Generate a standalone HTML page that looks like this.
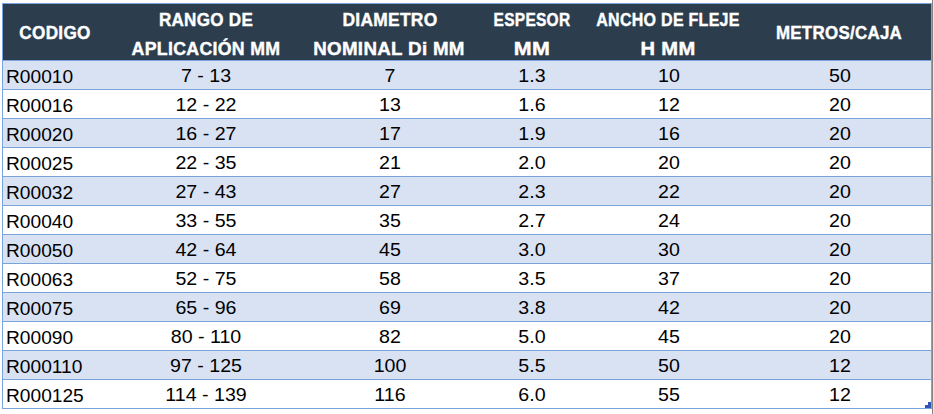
<!DOCTYPE html>
<html><head><meta charset="utf-8"><style>
html,body{margin:0;padding:0;background:#fff;width:934px;height:414px;overflow:hidden;position:relative}
.a{position:absolute}
.t{position:absolute;white-space:nowrap;font-family:"Liberation Sans",sans-serif;}
.d{font-size:18.5px;line-height:18.5px;color:#000;width:300px;text-align:center;transform-origin:50% 50%}
.h{font-size:18.0px;line-height:18.0px;color:#fff;font-weight:bold;letter-spacing:0.3px;-webkit-text-stroke:0.4px #fff;width:300px;text-align:center;transform-origin:50% 50%}
</style></head><body>
<div class="a" style="left:2px;top:3px;width:928px;height:404px;border:1px solid #7BA3DB;background:#fff"></div>
<div class="a" style="left:3px;top:4px;width:928px;height:56px;background:#2C3D4E"></div>

<div class="a" style="left:3px;top:61px;width:928px;height:28px;background:#D9E2F3"></div>
<div class="a" style="left:2px;top:60px;width:930px;height:1px;background:#7BA3DB"></div>
<div class="a" style="left:2px;top:89px;width:930px;height:1px;background:#7BA3DB"></div>
<div class="a" style="left:3px;top:119px;width:928px;height:28px;background:#D9E2F3"></div>
<div class="a" style="left:2px;top:118px;width:930px;height:1px;background:#7BA3DB"></div>
<div class="a" style="left:2px;top:147px;width:930px;height:1px;background:#7BA3DB"></div>
<div class="a" style="left:3px;top:177px;width:928px;height:28px;background:#D9E2F3"></div>
<div class="a" style="left:2px;top:176px;width:930px;height:1px;background:#7BA3DB"></div>
<div class="a" style="left:2px;top:205px;width:930px;height:1px;background:#7BA3DB"></div>
<div class="a" style="left:3px;top:235px;width:928px;height:28px;background:#D9E2F3"></div>
<div class="a" style="left:2px;top:234px;width:930px;height:1px;background:#7BA3DB"></div>
<div class="a" style="left:2px;top:263px;width:930px;height:1px;background:#7BA3DB"></div>
<div class="a" style="left:3px;top:293px;width:928px;height:28px;background:#D9E2F3"></div>
<div class="a" style="left:2px;top:292px;width:930px;height:1px;background:#7BA3DB"></div>
<div class="a" style="left:2px;top:321px;width:930px;height:1px;background:#7BA3DB"></div>
<div class="a" style="left:3px;top:351px;width:928px;height:28px;background:#D9E2F3"></div>
<div class="a" style="left:2px;top:350px;width:930px;height:1px;background:#7BA3DB"></div>
<div class="a" style="left:2px;top:379px;width:930px;height:1px;background:#7BA3DB"></div>
<div class="a" style="left:932px;top:0;width:1px;height:414px;background:#8a8282"></div>
<div class="a" style="left:933px;top:0;width:1px;height:414px;background:#e6e6ea"></div>
<div class="a" style="left:925px;top:405px;width:6px;height:3px;background:#2F55B8"></div>
<div class="a" style="left:928px;top:402px;width:3px;height:3px;background:#2F55B8"></div>
<div class="t h" style="left:-95.10px;top:23.76px;transform:scaleX(0.9526)">CODIGO</div>
<div class="t h" style="left:56.14px;top:10.76px;transform:scaleX(0.9477)">RANGO DE</div>
<div class="t h" style="left:55.77px;top:39.76px;transform:scaleX(0.9858)">APLICACIÓN MM</div>
<div class="t h" style="left:239.68px;top:10.76px;transform:scaleX(0.9666)">DIAMETRO</div>
<div class="t h" style="left:239.34px;top:39.76px;transform:scaleX(1.0417)">NOMINAL Di MM</div>
<div class="t h" style="left:381.72px;top:10.76px;transform:scaleX(0.8610)">ESPESOR</div>
<div class="t h" style="left:382.12px;top:39.76px;transform:scaleX(1.1901)">MM</div>
<div class="t h" style="left:518.18px;top:10.76px;transform:scaleX(0.8898)">ANCHO DE FLEJE</div>
<div class="t h" style="left:518.48px;top:39.76px;transform:scaleX(1.1184)">H MM</div>
<div class="t h" style="left:689.46px;top:23.76px;transform:scaleX(0.9389)">METROS/CAJA</div>
<div class="t d" style="left:6.3px;top:68.34px;width:auto;text-align:left;transform-origin:0 50%;transform:scaleX(1.035)">R00010</div>
<div class="t d" style="left:56.00px;top:67.34px;transform:scaleX(1.06)">7 - 13</div>
<div class="t d" style="left:240.00px;top:67.34px;transform:scaleX(1.06)">7</div>
<div class="t d" style="left:382.00px;top:67.34px;transform:scaleX(1.06)">1.3</div>
<div class="t d" style="left:518.50px;top:67.34px;transform:scaleX(1.06)">10</div>
<div class="t d" style="left:690.00px;top:67.34px;transform:scaleX(1.06)">50</div>
<div class="t d" style="left:6.3px;top:97.34px;width:auto;text-align:left;transform-origin:0 50%;transform:scaleX(1.035)">R00016</div>
<div class="t d" style="left:56.00px;top:96.34px;transform:scaleX(1.06)">12 - 22</div>
<div class="t d" style="left:240.00px;top:96.34px;transform:scaleX(1.06)">13</div>
<div class="t d" style="left:382.00px;top:96.34px;transform:scaleX(1.06)">1.6</div>
<div class="t d" style="left:518.50px;top:96.34px;transform:scaleX(1.06)">12</div>
<div class="t d" style="left:690.00px;top:96.34px;transform:scaleX(1.06)">20</div>
<div class="t d" style="left:6.3px;top:126.34px;width:auto;text-align:left;transform-origin:0 50%;transform:scaleX(1.035)">R00020</div>
<div class="t d" style="left:56.00px;top:125.34px;transform:scaleX(1.06)">16 - 27</div>
<div class="t d" style="left:240.00px;top:125.34px;transform:scaleX(1.06)">17</div>
<div class="t d" style="left:382.00px;top:125.34px;transform:scaleX(1.06)">1.9</div>
<div class="t d" style="left:518.50px;top:125.34px;transform:scaleX(1.06)">16</div>
<div class="t d" style="left:690.00px;top:125.34px;transform:scaleX(1.06)">20</div>
<div class="t d" style="left:6.3px;top:155.34px;width:auto;text-align:left;transform-origin:0 50%;transform:scaleX(1.035)">R00025</div>
<div class="t d" style="left:56.00px;top:154.34px;transform:scaleX(1.06)">22 - 35</div>
<div class="t d" style="left:240.00px;top:154.34px;transform:scaleX(1.06)">21</div>
<div class="t d" style="left:382.00px;top:154.34px;transform:scaleX(1.06)">2.0</div>
<div class="t d" style="left:518.50px;top:154.34px;transform:scaleX(1.06)">20</div>
<div class="t d" style="left:690.00px;top:154.34px;transform:scaleX(1.06)">20</div>
<div class="t d" style="left:6.3px;top:184.34px;width:auto;text-align:left;transform-origin:0 50%;transform:scaleX(1.035)">R00032</div>
<div class="t d" style="left:56.00px;top:183.34px;transform:scaleX(1.06)">27 - 43</div>
<div class="t d" style="left:240.00px;top:183.34px;transform:scaleX(1.06)">27</div>
<div class="t d" style="left:382.00px;top:183.34px;transform:scaleX(1.06)">2.3</div>
<div class="t d" style="left:518.50px;top:183.34px;transform:scaleX(1.06)">22</div>
<div class="t d" style="left:690.00px;top:183.34px;transform:scaleX(1.06)">20</div>
<div class="t d" style="left:6.3px;top:213.34px;width:auto;text-align:left;transform-origin:0 50%;transform:scaleX(1.035)">R00040</div>
<div class="t d" style="left:56.00px;top:212.34px;transform:scaleX(1.06)">33 - 55</div>
<div class="t d" style="left:240.00px;top:212.34px;transform:scaleX(1.06)">35</div>
<div class="t d" style="left:382.00px;top:212.34px;transform:scaleX(1.06)">2.7</div>
<div class="t d" style="left:518.50px;top:212.34px;transform:scaleX(1.06)">24</div>
<div class="t d" style="left:690.00px;top:212.34px;transform:scaleX(1.06)">20</div>
<div class="t d" style="left:6.3px;top:242.34px;width:auto;text-align:left;transform-origin:0 50%;transform:scaleX(1.035)">R00050</div>
<div class="t d" style="left:56.00px;top:241.34px;transform:scaleX(1.06)">42 - 64</div>
<div class="t d" style="left:240.00px;top:241.34px;transform:scaleX(1.06)">45</div>
<div class="t d" style="left:382.00px;top:241.34px;transform:scaleX(1.06)">3.0</div>
<div class="t d" style="left:518.50px;top:241.34px;transform:scaleX(1.06)">30</div>
<div class="t d" style="left:690.00px;top:241.34px;transform:scaleX(1.06)">20</div>
<div class="t d" style="left:6.3px;top:271.34px;width:auto;text-align:left;transform-origin:0 50%;transform:scaleX(1.035)">R00063</div>
<div class="t d" style="left:56.00px;top:270.34px;transform:scaleX(1.06)">52 - 75</div>
<div class="t d" style="left:240.00px;top:270.34px;transform:scaleX(1.06)">58</div>
<div class="t d" style="left:382.00px;top:270.34px;transform:scaleX(1.06)">3.5</div>
<div class="t d" style="left:518.50px;top:270.34px;transform:scaleX(1.06)">37</div>
<div class="t d" style="left:690.00px;top:270.34px;transform:scaleX(1.06)">20</div>
<div class="t d" style="left:6.3px;top:300.34px;width:auto;text-align:left;transform-origin:0 50%;transform:scaleX(1.035)">R00075</div>
<div class="t d" style="left:56.00px;top:299.34px;transform:scaleX(1.06)">65 - 96</div>
<div class="t d" style="left:240.00px;top:299.34px;transform:scaleX(1.06)">69</div>
<div class="t d" style="left:382.00px;top:299.34px;transform:scaleX(1.06)">3.8</div>
<div class="t d" style="left:518.50px;top:299.34px;transform:scaleX(1.06)">42</div>
<div class="t d" style="left:690.00px;top:299.34px;transform:scaleX(1.06)">20</div>
<div class="t d" style="left:6.3px;top:329.34px;width:auto;text-align:left;transform-origin:0 50%;transform:scaleX(1.035)">R00090</div>
<div class="t d" style="left:56.00px;top:328.34px;transform:scaleX(1.06)">80 - 110</div>
<div class="t d" style="left:240.00px;top:328.34px;transform:scaleX(1.06)">82</div>
<div class="t d" style="left:382.00px;top:328.34px;transform:scaleX(1.06)">5.0</div>
<div class="t d" style="left:518.50px;top:328.34px;transform:scaleX(1.06)">45</div>
<div class="t d" style="left:690.00px;top:328.34px;transform:scaleX(1.06)">20</div>
<div class="t d" style="left:6.3px;top:358.34px;width:auto;text-align:left;transform-origin:0 50%;transform:scaleX(1.035)">R000110</div>
<div class="t d" style="left:56.00px;top:357.34px;transform:scaleX(1.06)">97 - 125</div>
<div class="t d" style="left:240.00px;top:357.34px;transform:scaleX(1.06)">100</div>
<div class="t d" style="left:382.00px;top:357.34px;transform:scaleX(1.06)">5.5</div>
<div class="t d" style="left:518.50px;top:357.34px;transform:scaleX(1.06)">50</div>
<div class="t d" style="left:690.00px;top:357.34px;transform:scaleX(1.06)">12</div>
<div class="t d" style="left:6.3px;top:387.34px;width:auto;text-align:left;transform-origin:0 50%;transform:scaleX(1.035)">R000125</div>
<div class="t d" style="left:56.00px;top:386.34px;transform:scaleX(1.06)">114 - 139</div>
<div class="t d" style="left:240.00px;top:386.34px;transform:scaleX(1.06)">116</div>
<div class="t d" style="left:382.00px;top:386.34px;transform:scaleX(1.06)">6.0</div>
<div class="t d" style="left:518.50px;top:386.34px;transform:scaleX(1.06)">55</div>
<div class="t d" style="left:690.00px;top:386.34px;transform:scaleX(1.06)">12</div>
</body></html>
